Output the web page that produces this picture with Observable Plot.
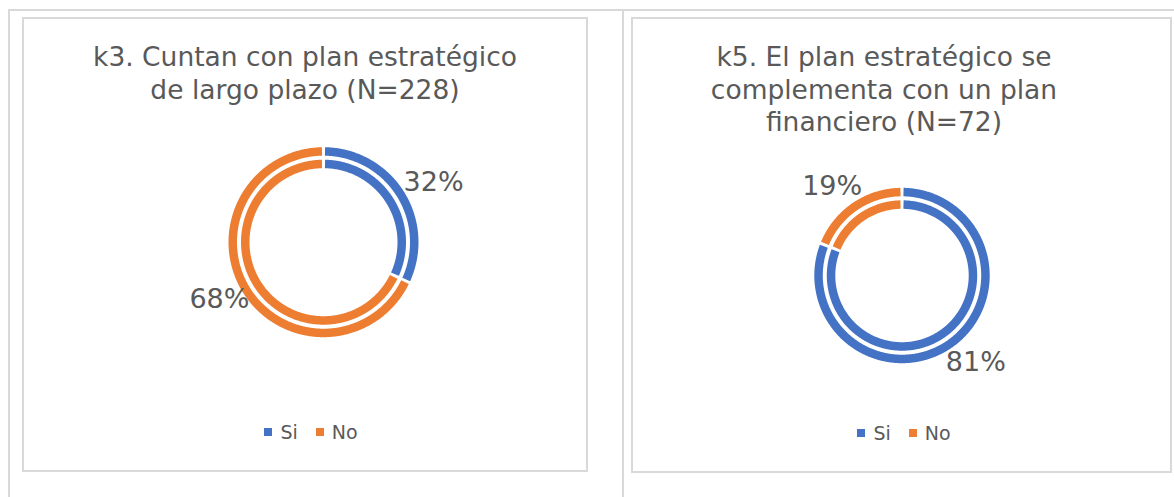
<!DOCTYPE html>
<html><head><meta charset="utf-8">
<script src="https://cdn.jsdelivr.net/npm/d3@7"></script>
<script src="https://cdn.jsdelivr.net/npm/@observablehq/plot@0.6"></script>
<style>
body{margin:0;background:#fff;font-family:"DejaVu Sans",sans-serif;}
#page{position:relative;width:1174px;height:497px;overflow:hidden;background:#fff;}
.rule{position:absolute;background:#d9d9d9;}
.box{position:absolute;border:2px solid #d9d9d9;box-sizing:border-box;}
.title{position:absolute;width:600px;text-align:center;color:#595959;font-size:26.5px;line-height:32.5px;white-space:nowrap;}
.plot{position:absolute;}
.legend{position:absolute;width:300px;height:24px;display:flex;justify-content:center;align-items:center;color:#595959;font-size:19px;}
.item{display:inline-flex;align-items:center;margin:0 9px;}
.sw{display:inline-block;width:8px;height:8px;margin-right:8px;}
</style></head><body><div id="page"></div>
<script>
// ---- data ----
const categories = ["Si", "No"];
const colors = ["#4472C4", "#ED7D31"];
const k3Values = [32, 68];
const k5Values = [81, 19];
const k3Title = ["k3. Cuntan con plan estratégico", "de largo plazo (N=228)"];
const k5Title = ["k5. El plan estratégico se", "complementa con un plan", "financiero (N=72)"];

// ---- layout ----
const page = document.getElementById("page");
function rule(l, t, w, h) {
  const d = document.createElement("div");
  d.className = "rule";
  Object.assign(d.style, {left: l + "px", top: t + "px", width: w + "px", height: h + "px"});
  page.appendChild(d);
}
rule(8, 9, 1166, 2);
rule(8, 9, 2, 488);
rule(622, 9, 2, 488);

// label nudges (pixels, screen coords: +x right, +y down), one per slice
const panels = [
  {values: k3Values, title: k3Title, box: {left: 22, top: 17, width: 566, height: 455},
   cx: 323, cy: 241.7, R: 95, titleX: 305, titleTop: 41, legendX: 311, legendY: 432,
   nudge: [[-1, 0], [7, -5]]},
  {values: k5Values, title: k5Title, box: {left: 631, top: 17, width: 541, height: 456},
   cx: 901.5, cy: 275, R: 87.7, titleX: 884, titleTop: 41, legendX: 904, legendY: 433,
   nudge: [[-6, 3], [10, -7]]}
];

const ringWidth = 8.5, ringGap = 4, sliceGap = 3;

for (const p of panels) {
  const b = document.createElement("div");
  b.className = "box";
  Object.assign(b.style, {left: p.box.left + "px", top: p.box.top + "px", width: p.box.width + "px", height: p.box.height + "px"});
  page.appendChild(b);

  const t = document.createElement("div");
  t.className = "title";
  t.style.left = (p.titleX - 300) + "px";
  t.style.top = p.titleTop + "px";
  t.innerHTML = p.title.join("<br>");
  page.appendChild(t);

  // arcs
  const total = d3.sum(p.values);
  const pts = [];
  const labels = [];
  let acc = 0;
  p.values.forEach((v, i) => {
    const a0 = acc / total * 2 * Math.PI;
    acc += v;
    const a1 = acc / total * 2 * Math.PI;
    [p.R - ringWidth / 2, p.R - ringWidth - ringGap - ringWidth / 2].forEach((r, ri) => {
      const h = (sliceGap / 2) / r;
      const s = a0 + h, e = a1 - h;
      const n = Math.max(2, Math.ceil((e - s) / (Math.PI / 360)));
      for (let k = 0; k <= n; k++) {
        const th = s + (e - s) * k / n;
        pts.push({x: r * Math.sin(th), y: r * Math.cos(th), key: i + "-" + ri, cat: categories[i]});
      }
    });
    const am = (a0 + a1) / 2;
    const lr = p.R + 1;
    const sx = Math.sin(am), sy = Math.cos(am);
    labels.push({x: lr * sx + p.nudge[i][0], y: lr * sy - p.nudge[i][1], text: Math.round(v / total * 100) + "%",
                 ta: sx >= 0 ? "start" : "end", la: sy >= 0 ? "bottom" : "top"});
  });

  const labelMarks = [];
  for (const ta of ["start", "end"]) for (const la of ["top", "bottom"]) {
    labelMarks.push(Plot.text(labels.filter(d => d.ta === ta && d.la === la), {
      x: "x", y: "y", text: "text", textAnchor: ta, lineAnchor: la,
      fontSize: 27, fill: "#595959", fontFamily: "DejaVu Sans"
    }));
  }

  const W = p.box.width, H = p.box.height;
  const chart = Plot.plot({
    width: W, height: H,
    margin: 0,
    x: {domain: [p.box.left - p.cx, p.box.left + W - p.cx], axis: null},
    y: {domain: [p.cy - (p.box.top + H), p.cy - p.box.top], axis: null},
    color: {domain: categories, range: colors},
    style: {background: "transparent", fontFamily: "DejaVu Sans", overflow: "visible"},
    marks: [
      Plot.line(pts, {x: "x", y: "y", z: "key", stroke: "cat", strokeWidth: ringWidth, strokeLinecap: "butt", strokeLinejoin: "round"}),
      ...labelMarks
    ]
  });
  chart.classList.add("plot");
  chart.style.left = p.box.left + "px";
  chart.style.top = p.box.top + "px";
  chart.style.position = "absolute";
  page.appendChild(chart);

  const lg = document.createElement("div");
  lg.className = "legend";
  lg.style.left = (p.legendX - 150) + "px";
  lg.style.top = (p.legendY - 12) + "px";
  categories.forEach((c, i) => {
    const it = document.createElement("span");
    it.className = "item";
    const sw = document.createElement("span");
    sw.className = "sw";
    sw.style.background = colors[i];
    it.appendChild(sw);
    it.appendChild(document.createTextNode(c));
    lg.appendChild(it);
  });
  page.appendChild(lg);
}
</script>
</body></html>
